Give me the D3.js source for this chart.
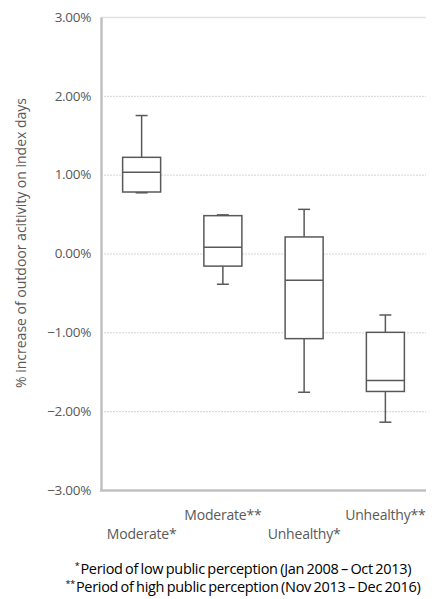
<!DOCTYPE html>
<html>
<head>
<meta charset="utf-8">
<script src="https://cdn.jsdelivr.net/npm/d3@7"></script>
<style>
  body { margin: 0; background: #fff; }
  svg { display: block; }
</style>
</head>
<body>
<div id="chart"></div>
<script>
// data (percent values)
let categories = ["Moderate*", "Moderate**", "Unhealthy*", "Unhealthy**"];
let whiskerMax = [1.75, 0.49, 0.56, -0.78];
let q3s = [1.22, 0.48, 0.21, -1.00];
let medians = [1.03, 0.08, -0.34, -1.61];
let q1s = [0.78, -0.16, -1.08, -1.75];
let whiskerMin = [0.77, -0.39, -1.76, -2.14];
let yTicks = [3, 2, 1, 0, -1, -2, -3];
let footnotes = [
  {mark: "*", text: "Period of low public perception (Jan 2008 \u2013 Oct 2013)"},
  {mark: "**", text: "Period of high public perception (Nov 2013 \u2013 Dec 2016)"}
];

let width = 443, height = 599;
let margin = {top: 17, right: 17, bottom: 109, left: 101};

let boxes = categories.map(function(c, i){
  return {key: c, max: whiskerMax[i], q3: q3s[i], median: medians[i], q1: q1s[i], min: whiskerMin[i]};
});

let svg = d3.select("#chart")
  .append("svg")
  .attr("width", width)
  .attr("height", height);

let x = d3.scaleBand()
  .domain(categories)
  .range([margin.left, width - margin.right]);

let y = d3.scaleLinear()
  .domain([-3, 3])
  .range([height - margin.bottom, margin.top]);

let boxWidth = 38;
let capWidth = 12;
let boxColor = "#595959";
let font = "'Open Sans', sans-serif";

// gridlines
svg.append("g")
  .selectAll("line")
  .data(yTicks.filter(d => d > -3))
  .enter()
  .append("line")
  .attr("x1", margin.left)
  .attr("x2", width - margin.right)
  .attr("y1", d => y(d) + 0.5)
  .attr("y2", d => y(d) + 0.5)
  .attr("stroke", d => d == 3 ? "#e2e2e2" : "#d4d4d4")
  .attr("stroke-width", d => d == 3 ? 1.5 : 1)
  .attr("stroke-dasharray", d => d == 3 ? null : "2,1");

// y axis
let yAxis = svg.append("g")
  .attr("transform", "translate(" + margin.left + ",0)")
  .call(d3.axisLeft(y).tickValues(yTicks).tickSize(0).tickPadding(10)
    .tickFormat(d => d3.format(".2f")(d) + "%"));
yAxis.select(".domain").attr("stroke", "#c0c0c0").attr("stroke-width", 2.5);
yAxis.selectAll("text")
  .style("font-family", font)
  .style("font-size", "13.5px")
  .style("letter-spacing", "-0.3px")
  .attr("fill", "#595959");

// bottom axis line
svg.append("line")
  .attr("x1", margin.left - 1)
  .attr("x2", width - margin.right)
  .attr("y1", y(-3) + 0.5)
  .attr("y2", y(-3) + 0.5)
  .attr("stroke", "#c0c0c0")
  .attr("stroke-width", 2.5);

// category labels, alternating rows
svg.append("g")
  .selectAll("text")
  .data(categories)
  .enter()
  .append("text")
  .attr("x", d => x(d) + x.bandwidth() / 2)
  .attr("y", (d, i) => i % 2 == 0 ? 539 : 520)
  .attr("text-anchor", "middle")
  .style("font-family", font)
  .style("font-size", "14px")
  .style("letter-spacing", "-0.2px")
  .attr("fill", "#595959")
  .text(d => d);

// whiskers
let g = svg.append("g").attr("stroke", boxColor).attr("stroke-width", 1.5).attr("fill", "none");

g.selectAll(".whisker")
  .data(boxes)
  .enter()
  .append("line")
  .attr("class", "whisker")
  .attr("x1", d => x(d.key) + x.bandwidth() / 2)
  .attr("x2", d => x(d.key) + x.bandwidth() / 2)
  .attr("y1", d => y(d.max))
  .attr("y2", d => y(d.min));

g.selectAll(".capTop")
  .data(boxes)
  .enter()
  .append("line")
  .attr("class", "capTop")
  .attr("x1", d => x(d.key) + x.bandwidth() / 2 - capWidth / 2)
  .attr("x2", d => x(d.key) + x.bandwidth() / 2 + capWidth / 2)
  .attr("y1", d => y(d.max))
  .attr("y2", d => y(d.max));

g.selectAll(".capBottom")
  .data(boxes)
  .enter()
  .append("line")
  .attr("class", "capBottom")
  .attr("x1", d => x(d.key) + x.bandwidth() / 2 - capWidth / 2)
  .attr("x2", d => x(d.key) + x.bandwidth() / 2 + capWidth / 2)
  .attr("y1", d => y(d.min))
  .attr("y2", d => y(d.min));

// boxes
g.selectAll("rect")
  .data(boxes)
  .enter()
  .append("rect")
  .attr("x", d => x(d.key) + x.bandwidth() / 2 - boxWidth / 2)
  .attr("y", d => y(d.q3))
  .attr("width", boxWidth)
  .attr("height", d => y(d.q1) - y(d.q3))
  .attr("fill", "#fff");

// medians
g.selectAll(".median")
  .data(boxes)
  .enter()
  .append("line")
  .attr("class", "median")
  .attr("x1", d => x(d.key) + x.bandwidth() / 2 - boxWidth / 2)
  .attr("x2", d => x(d.key) + x.bandwidth() / 2 + boxWidth / 2)
  .attr("y1", d => y(d.median))
  .attr("y2", d => y(d.median));

// y axis title
svg.append("text")
  .attr("transform", "translate(26,243) rotate(-90)")
  .attr("text-anchor", "middle")
  .style("font-family", font)
  .style("font-size", "14px")
  .attr("fill", "#595959")
  .text("% increase of outdoor acitivity on index days");

// footnotes
let notes = svg.append("g")
  .selectAll("text")
  .data(footnotes)
  .enter()
  .append("text")
  .attr("x", 243)
  .attr("y", (d, i) => 574 + i * 18)
  .attr("text-anchor", "middle")
  .style("font-family", font)
  .style("font-size", "14.5px")
  .style("letter-spacing", "-0.3px")
  .style("word-spacing", "-1px")
  .attr("fill", "#000");
notes.append("tspan")
  .attr("dy", "-5")
  .style("font-size", "9px")
  .text(d => d.mark + " ");
notes.append("tspan")
  .attr("dy", "5")
  .text(d => d.text);
</script>
</body>
</html>
